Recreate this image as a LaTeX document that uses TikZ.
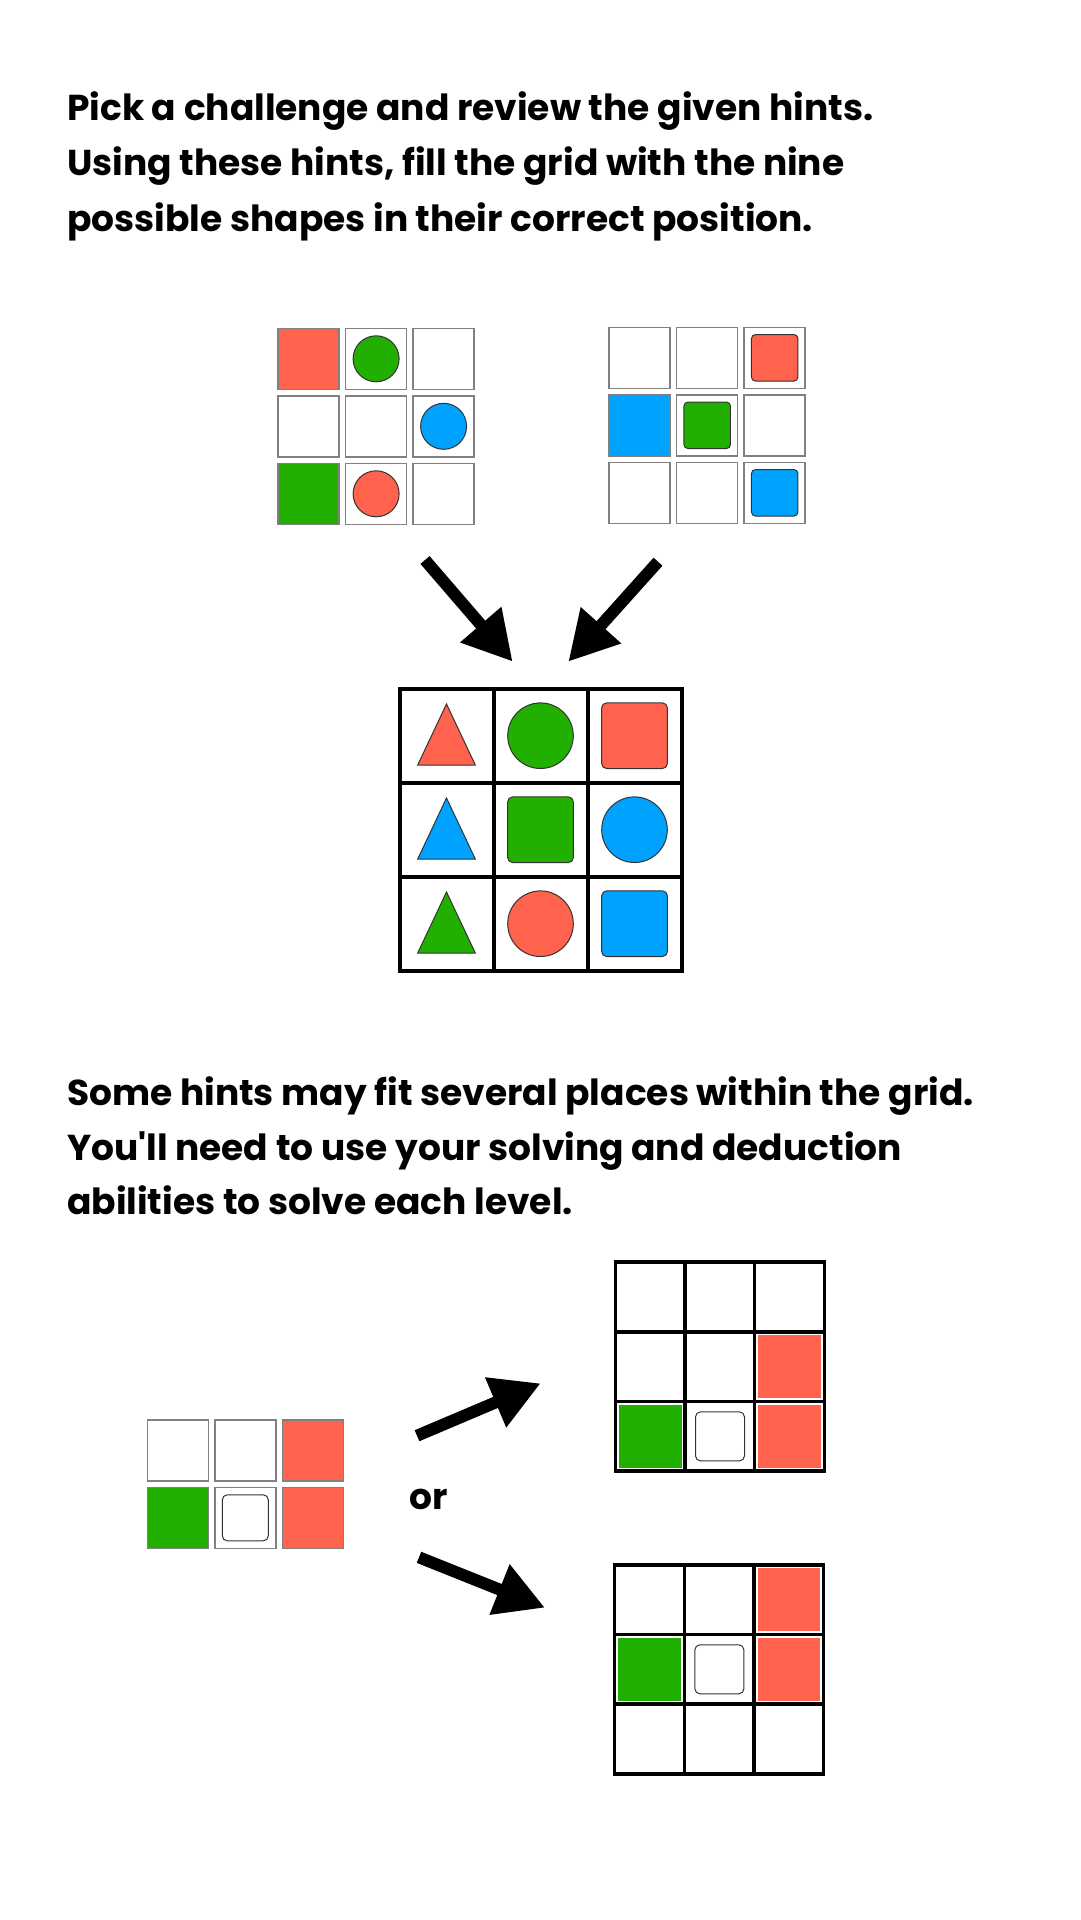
\documentclass[tikz,border=0pt]{standalone}
\usepackage{fontspec}
\setmainfont{Poppins}
\usetikzlibrary{arrows.meta}
\definecolor{tred}{RGB}{255,99,77}
\definecolor{tgreen}{RGB}{34,176,0}
\definecolor{tblue}{RGB}{0,162,255}
\begin{document}
\begin{tikzpicture}[x=1pt,y=-1pt,
  txt/.style={anchor=base west,inner sep=0,font=\fontsize{36}{44}\selectfont\bfseries},
  hint/.style={draw=black!50,line width=1.5pt,fill=white},
  edge/.style={draw=black!80,line width=1pt},
  board/.style={line width=4pt},
  big arrow/.style={line width=12pt,-{Triangle[width=51pt,length=49pt]}}]
\fill[white] (0,0) rectangle (1080,1920);
\useasboundingbox (0,0) rectangle (1080,1920);
% instructions
\node[txt] (l1) at (67,120) {Pick a challenge and review the given hints.};
\node[txt] (l2) at (67,175.5) {Using these hints, fill the grid with the nine};
\node[txt] (l3) at (67,231) {possible shapes in their correct position.};
\node[txt] (m1) at (67,1105.5) {Some hints may fit several places within the grid.};
\node[txt] (m2) at (67,1160) {You\textquotesingle ll need to use your solving and deduction};
\node[txt] (m3) at (67,1214.5) {abilities to solve each level.};
% first hint
\begin{scope}[shift={(278.1,328.3)}]
\foreach \r in {0,1,2} \foreach \c in {0,1,2}
  \draw[hint] ({67.5*\c},{67.5*\r}) rectangle +(61,61);
\draw[hint,fill=tred] (0,0) rectangle +(61,61);
\draw[hint,fill=tgreen] (0,135) rectangle +(61,61);
\draw[edge,fill=tgreen] (98,30.5) circle[radius=23];
\draw[edge,fill=tblue] (165.5,98) circle[radius=23];
\draw[edge,fill=tred] (98,165.5) circle[radius=23];
\end{scope}
% second hint
\begin{scope}[shift={(609.2,327.3)}]
\foreach \r in {0,1,2} \foreach \c in {0,1,2}
  \draw[hint] ({67.5*\c},{67.5*\r}) rectangle +(61,61);
\draw[hint,fill=tblue] (0,67.5) rectangle +(61,61);
\foreach \x/\y/\col in {165.5/30.5/tred,98/98/tgreen,165.5/165.5/tblue}
  \draw[edge,fill=\col,rounded corners=4pt] ({\x-23.25},{\y-23.25}) rectangle +(46.5,46.5);
\end{scope}
% arrows to the board
\coordinate (a1s) at (425,560);
\coordinate (a1e) at (512.7,661.7);
\coordinate (a2s) at (658,561.7);
\coordinate (a2e) at (568.3,661.7);
\draw[big arrow] (a1s) -- (a1e);
\draw[big arrow] (a2s) -- (a2e);
% solved board
\begin{scope}[shift={(399.5,688.7)}]
\fill[white] (0,0) rectangle (282,282);
\foreach \r/\col in {0/tred,1/tblue,2/tgreen}
  \draw[edge,fill=\col] (47,{15.3+94*\r}) -- ++(28.8,61) -- ++(-57.6,0) -- cycle;
\foreach \x/\y/\col in {141/47/tgreen,235/141/tblue,141/235/tred}
  \draw[edge,fill=\col] (\x,\y) circle[radius=32.8];
\foreach \x/\y/\col in {235/47/tred,141/141/tgreen,235/235/tblue}
  \draw[edge,fill=\col,rounded corners=5pt] ({\x-32.85},{\y-32.85}) rectangle +(65.7,65.7);
\draw[board] (0,0) rectangle (282,282);
\foreach \i in {94,188} {
  \draw[board] (\i,0) -- (\i,282);
  \draw[board] (0,\i) -- (282,\i);
}
\end{scope}
% partial hint
\begin{scope}[shift={(147.7,1420)}]
\foreach \r in {0,1} \foreach \c in {0,1,2}
  \draw[hint] ({67.3*\c},{67.3*\r}) rectangle +(61,61);
\draw[hint,fill=tred] (134.6,0) rectangle +(61,61);
\draw[hint,fill=tgreen] (0,67.3) rectangle +(61,61);
\draw[hint,fill=tred] (134.6,67.3) rectangle +(61,61);
\draw[edge,rounded corners=5pt] (74.6,74.8) rectangle +(46,46);
\end{scope}
\node[txt] (or) at (409,1509) {or};
\coordinate (b1s) at (417,1435.7);
\coordinate (b1e) at (540.7,1383.3);
\coordinate (b2s) at (419,1557.3);
\coordinate (b2e) at (545,1607.7);
\draw[big arrow] (b1s) -- (b1e);
\draw[big arrow] (b2s) -- (b2e);
% two placements
\foreach \gx/\gy/\sh in {615.3/1262.2/1,614.7/1564.8/0} {
\begin{scope}[shift={(\gx,\gy)}]
\fill[white] (0,0) rectangle (209,209);
\fill[tred] (142.9,{69.7*\sh+3.5}) rectangle +(62.7,62.7);
\fill[tred] (142.9,{69.7*(\sh+1)+3.5}) rectangle +(62.7,62.7);
\fill[tgreen] (3.5,{69.7*(\sh+1)+3.5}) rectangle +(62.7,62.7);
\draw[edge,rounded corners=5pt] (80.2,{69.7*(\sh+1)+10.3}) rectangle +(49,49);
\draw[line width=3.5pt] (0,0) rectangle (209,209);
\foreach \i in {69.7,139.4} {
  \draw[line width=3.5pt] (\i,0) -- (\i,209);
  \draw[line width=3.5pt] (0,\i) -- (209,\i);
}
\end{scope}
}
\end{tikzpicture}
\end{document}
